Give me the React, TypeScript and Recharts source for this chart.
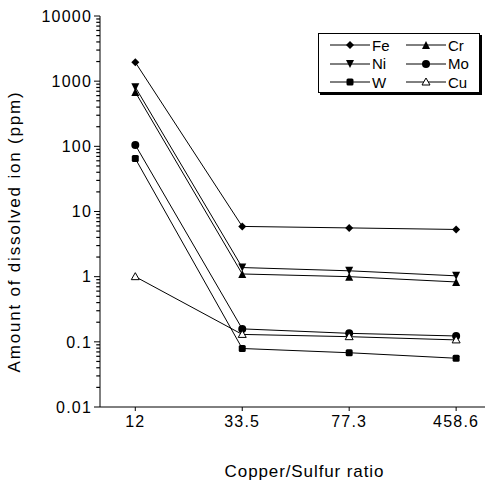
import { Line, LineChart, ReferenceLine, XAxis, YAxis } from "recharts";

const ratios = ["12", "33.5", "77.3", "458.6"];
const fe = [1950, 5.9, 5.6, 5.3];
const ni = [810, 1.38, 1.23, 1.03];
const cr = [680, 1.1, 1.0, 0.83];
const mo = [105, 0.158, 0.135, 0.123];
const w = [65, 0.079, 0.068, 0.056];
const cu = [1.0, 0.13, 0.12, 0.107];

const majorTicks = [0.01, 0.1, 1, 10, 100, 1000, 10000];
const minorTicks: number[] = [];
for (let d = 0.01; d < 10000; d *= 10) {
    for (let k = 2; k <= 9; k++) minorTicks.push(+(d * k).toPrecision(3));
}

const xDomain: [number, number] = [-0.33, 3.27];

const data = ratios.map((r, i) => ({
    idx: i, ratio: r, Fe: fe[i], Ni: ni[i], Cr: cr[i], Mo: mo[i], W: w[i], Cu: cu[i],
}));

type Kind = "diamond" | "down" | "up" | "circle" | "square" | "open";

const Marker = ({ kind, cx, cy }: { kind: Kind, cx: number, cy: number }) => {
    const s = 4;
    switch (kind) {
        case "diamond":
            return <polygon points={`${cx},${cy - s} ${cx + s},${cy} ${cx},${cy + s} ${cx - s},${cy}`} fill="#000" />;
        case "down":
            return <polygon points={`${cx - s},${cy - s} ${cx + s},${cy - s} ${cx},${cy + s}`} fill="#000" />;
        case "up":
            return <polygon points={`${cx - s},${cy + s} ${cx + s},${cy + s} ${cx},${cy - s}`} fill="#000" />;
        case "circle":
            return <circle cx={cx} cy={cy} r={s} fill="#000" />;
        case "square":
            return <rect x={cx - 3.5} y={cy - 3.5} width={7} height={7} rx={1.5} fill="#000" />;
        default:
            return <polygon points={`${cx - s},${cy + s - 1} ${cx + s},${cy + s - 1} ${cx},${cy - s}`} fill="#fff" stroke="#000" strokeWidth={1} />;
    }
};

const series: { key: string, kind: Kind }[] = [
    { key: "Fe", kind: "diamond" },
    { key: "Ni", kind: "down" },
    { key: "Cr", kind: "up" },
    { key: "Mo", kind: "circle" },
    { key: "W", kind: "square" },
    { key: "Cu", kind: "open" },
];

const legendOrder = ["Fe", "Cr", "Ni", "Mo", "W", "Cu"];

const font = "Liberation Sans, Arial, sans-serif";

const LegendBox = () => (
    <div style={{
        position: "absolute", left: 318, top: 33,
        border: "1.5px solid #000", boxShadow: "2px 2px 0 #000", width: 162, height: 60,
        display: "grid", gridTemplateColumns: "87px 1fr", gridAutoRows: "18.5px", fontFamily: font,
        fontSize: 15, paddingTop: 2, boxSizing: "border-box", background: "#fff",
    }}>
        {legendOrder.map((k, i) => {
            const s = series.find((x) => x.key === k)!;
            return (
                <div key={k} style={{ display: "flex", alignItems: "center", paddingLeft: i % 2 === 0 ? 11 : 0 }}>
                    <svg width={40} height={12}>
                        <line x1={0} y1={6} x2={40} y2={6} stroke="#000" strokeWidth={1} />
                        <Marker kind={s.kind} cx={20} cy={6} />
                    </svg>
                    <span style={{ marginLeft: 2 }}>{k}</span>
                </div>
            );
        })}
    </div>
);

export default function App() {
    return (
        <div style={{ position: "absolute", left: 0, top: 0, background: "#fff", width: 485, height: 487 }}>
            <LineChart width={485} height={487} data={data} margin={{ top: 16, right: 0, bottom: 0, left: 0 }}>
                <XAxis dataKey="idx" type="number" domain={xDomain} ticks={[0, 1, 2, 3]}
                    tickFormatter={(v: number) => ratios[v]} allowDataOverflow height={80}
                    stroke="#000" tick={{ fill: "#000", fontSize: 16, letterSpacing: 1.2, fontFamily: font }}
                    tickSize={4} tickMargin={5}
                    label={{ value: "Copper/Sulfur ratio", position: "insideBottom", offset: 10, dx: 12, fill: "#000", fontSize: 17, letterSpacing: 0.9, fontFamily: font }} />
                <YAxis scale="log" domain={[0.01, 10000]} ticks={majorTicks} width={100} interval={0}
                    allowDataOverflow stroke="#000" tickSize={6} tickMargin={2}
                    tickFormatter={(v: number) => String(v)}
                    tick={{ fill: "#000", fontSize: 16, letterSpacing: 1.2, fontFamily: font }}
                    label={{ value: "Amount of dissolved ion (ppm)", angle: -90, position: "insideLeft", offset: 0, dx: 14, dy: 20, fill: "#000", fontSize: 17, letterSpacing: 1.8, fontFamily: font, textAnchor: "middle" }} />
                {minorTicks.map((v) => (
                    <ReferenceLine key={v} ifOverflow="visible" stroke="#000" strokeWidth={1.2}
                        segment={[{ x: xDomain[0] - 0.035, y: v }, { x: xDomain[0], y: v }]} />
                ))}
                {series.map((s) => (
                    <Line key={s.key} dataKey={s.key} stroke="#000" strokeWidth={1}
                        isAnimationActive={false}
                        dot={(p: any) => <Marker key={`${s.key}-${p.index}`} kind={s.kind} cx={p.cx} cy={p.cy} />} />
                ))}
            </LineChart>
            <LegendBox />
        </div>
    );
}
